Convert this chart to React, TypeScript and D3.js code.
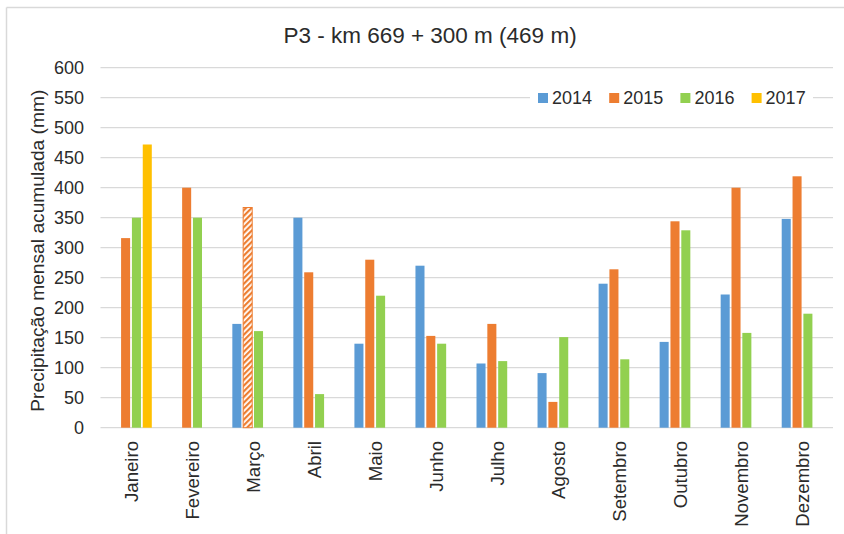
import React from "react";
import * as d3 from "d3";

const months = ["Janeiro","Fevereiro","Março","Abril","Maio","Junho","Julho","Agosto","Setembro","Outubro","Novembro","Dezembro"];
const seriesNames = ["2014","2015","2016","2017"];
const s2014 = [null, null, 173, 350, 140, 270, 107, 91, 240, 143, 222, 348];
const s2015 = [316, 400, 367, 259, 280, 153, 173, 43, 264, 344, 400, 419];
const s2016 = [350, 350, 161, 56, 220, 140, 111, 151, 114, 329, 158, 190];
const s2017 = [472, null, null, null, null, null, null, null, null, null, null, null];
const yTicks = [0,50,100,150,200,250,300,350,400,450,500,550,600];
const colors = ["#5B9BD5", "#ED7D31", "#92D050", "#FFC000"];
const title = "P3 - km 669 + 300 m (469 m)";
const yTitle = "Precipitação mensal acumulada (mm)";
// hatched (estimated) value: Março 2015
const hatched = { month: "Março", series: "2015" };

const W = 844, H = 534;
const FONT = "'Liberation Sans', Arial, sans-serif";
const TXT = "#2b2b2b";

export default function App() {
  const allSeries = [s2014, s2015, s2016, s2017];
  const x0 = d3.scaleBand<string>().domain(months).range([100.5, 833]).paddingInner(0.29).paddingOuter(0.145);
  const x1 = d3.scaleBand<string>().domain(seriesNames).range([0, x0.bandwidth()]);
  const y = d3.scaleLinear().domain([0, 600]).range([427.7, 67.7]);

  const bars: any[] = [];
  months.forEach((m, mi) => {
    seriesNames.forEach((s, si) => {
      const v = allSeries[si][mi];
      if (v == null) return;
      bars.push({ m, s, v, si });
    });
  });

  const legendX0 = 538, legendStep = 71.2;

  return (
    <div style={{ position: "absolute", left: 0, top: 0 }}>
      <svg width={W} height={H} style={{ display: "block", fontFamily: FONT }}>
        <defs>
          <pattern id="hatch" patternUnits="userSpaceOnUse" width="4" height="4" patternTransform="rotate(45)">
            <rect width="4" height="4" fill="#ffffff" />
            <rect width="2.2" height="4" fill="#ED7D31" />
          </pattern>
        </defs>
        <rect x={0} y={0} width={W} height={H} fill="#ffffff" />
        {/* outer border */}
        <line x1={6.5} x2={W} y1={7.5} y2={7.5} stroke="#d9d9d9" strokeWidth={1.5} />
        <line x1={6.5} x2={6.5} y1={7.5} y2={H} stroke="#d9d9d9" strokeWidth={1.5} />

        {/* title */}
        <text x={430} y={42.5} textAnchor="middle" fontSize={22.5} fill={TXT}>{title}</text>

        {/* gridlines */}
        {yTicks.map((t) => (
          <line key={t} x1={100.5} x2={833} y1={y(t)} y2={y(t)} stroke="#d9d9d9" strokeWidth={1.2} />
        ))}
        {/* y tick labels */}
        {yTicks.map((t) => (
          <text key={"l" + t} x={84} y={y(t)} dy="0.35em" textAnchor="end" fontSize={18} fill={TXT}>{t}</text>
        ))}
        {/* y title */}
        <text transform={`translate(37,${y(300) + 3}) rotate(-90)`} textAnchor="middle" dy="0.35em" fontSize={19.2} fill={TXT}>{yTitle}</text>

        {/* bars */}
        {bars.map((b) => {
          const bx = (x0(b.m) as number) + (x1(b.s) as number);
          const bw = x1.bandwidth();
          const isH = b.m === hatched.month && b.s === hatched.series;
          return (
            <rect key={b.m + b.s} x={bx + 0.9} y={y(b.v)} width={bw - 1.8} height={y(0) - y(b.v)}
              fill={isH ? "url(#hatch)" : colors[b.si]}
              stroke={isH ? "#ED7D31" : "none"} strokeWidth={isH ? 1 : 0} />
          );
        })}

        {/* month labels */}
        {months.map((m) => {
          const cx = (x0(m) as number) + x0.bandwidth() / 2;
          return (
            <text key={m} transform={`translate(${cx},441) rotate(-90)`} textAnchor="end" dy="0.35em" fontSize={18.6} fill={TXT}>{m}</text>
          );
        })}

        {/* legend */}
        <rect x={530} y={86} width={283} height={24} fill="#ffffff" />
        {seriesNames.map((s, i) => (
          <g key={s} transform={`translate(${legendX0 + i * legendStep},0)`}>
            <rect x={0} y={93} width={10} height={10} fill={colors[i]} />
            <text x={14} y={98} dy="0.35em" fontSize={18} fill={TXT}>{s}</text>
          </g>
        ))}
      </svg>
    </div>
  );
}
